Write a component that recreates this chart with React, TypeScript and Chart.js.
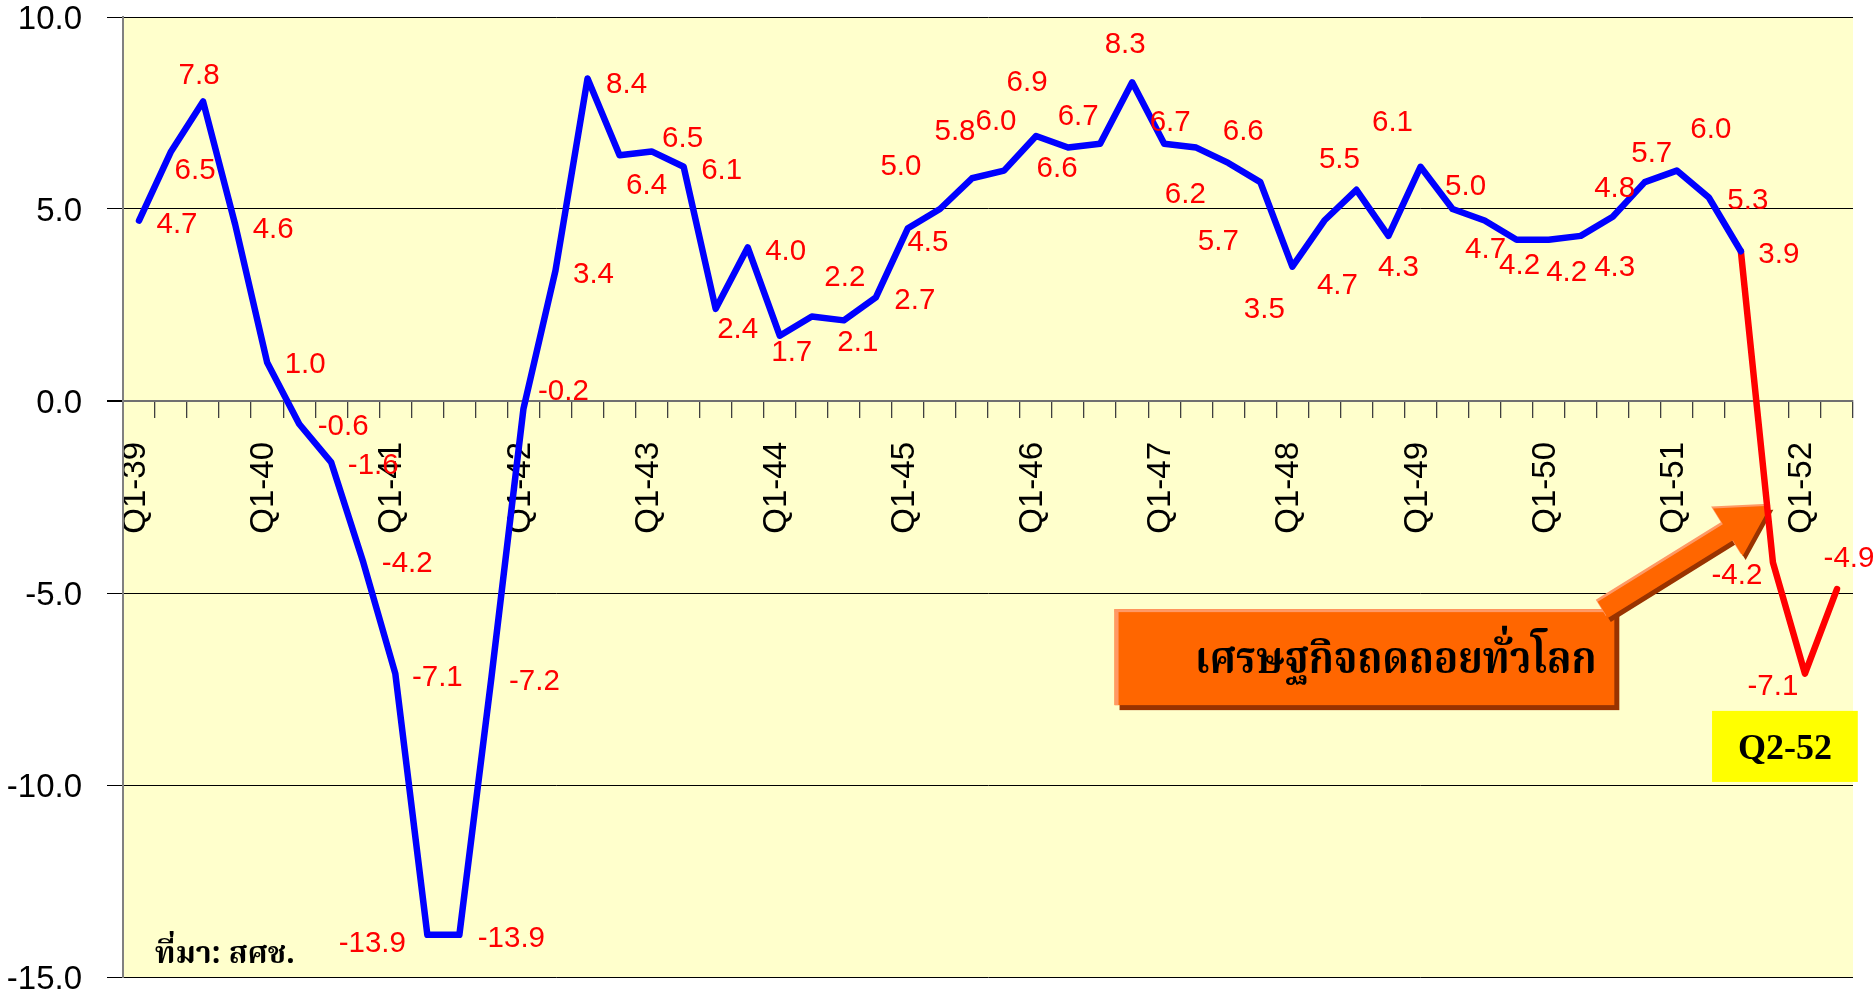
import { useEffect, useRef } from 'react';
import { Chart, registerables } from 'chart.js';

Chart.register(...registerables);

// ---------- data ----------
const YEARS = ['39', '40', '41', '42', '43', '44', '45', '46', '47', '48', '49', '50', '51', '52'];
const QUARTERS = ['Q1', 'Q2', 'Q3', 'Q4'];
const CATEGORIES: string[] = YEARS.flatMap((y) => QUARTERS.map((q) => `${q}-${y}`)).slice(0, 54);

// GDP growth (%), Q1-39 .. Q2-52
const GROWTH: number[] = [
  4.7, 6.5, 7.8, 4.6,
  1.0, -0.6, -1.6, -4.2,
  -7.1, -13.9, -13.9, -7.2,
  -0.2, 3.4, 8.4, 6.4,
  6.5, 6.1, 2.4, 4.0,
  1.7, 2.2, 2.1, 2.7,
  4.5, 5.0, 5.8, 6.0,
  6.9, 6.6, 6.7, 8.3,
  6.7, 6.6, 6.2, 5.7,
  3.5, 4.7, 5.5, 4.3,
  6.1, 5.0, 4.7, 4.2,
  4.2, 4.3, 4.8, 5.7,
  6.0, 5.3, 3.9, -4.2,
  -7.1, -4.9,
];
const CRISIS_START = 50; // index where the red (crisis) segment begins

const Y_TICKS = { min: -15, max: 10, step: 5 };

const SOURCE_TEXT = 'ที่มา: สศช.';
const CALLOUT_TEXT = 'เศรษฐกิจถดถอยทั่วโลก';
const MARKER_TEXT = 'Q2-52';

// ---------- styling (label offsets in px, relative to each point) ----------
const LABEL_OFFSETS: [number, number][] = [
  [38, 4], [24, 19], [-4, -26], [38, 5],
  [38, 2], [44, 3], [42, 3], [44, 2],
  [42, 4], [-55, 9], [52, 4], [43, 4],
  [40, -17], [38, 4], [39, 6], [27, 31],
  [31, -13], [38, 4], [22, 21], [38, 4],
  [12, 17], [33, -39], [14, 22], [39, 4],
  [20, 15], [-39, -42], [-17, -46], [-8, -49],
  [-9, -53], [-11, 21], [-22, -27], [-7, -37],
  [6, -21], [47, -16], [-43, 32], [-42, 60],
  [-28, 43], [13, 65], [-17, -30], [10, 32],
  [-28, -44], [13, -22], [1, 29], [3, 26],
  [18, 33], [34, 32], [2, -28], [7, -28],
  [34, -41], [39, 3], [38, 4], [-36, 14],
  [-32, 13], [12, -30],
];

// annotation anchors in data units (category index, value)
const CALLOUT_BOX = { x0: 30.45, x1: 46.05, y0: -5.42, y1: -7.92 };
const CALLOUT_TEXT_POS = { x0: 32.96, x1: 45.5, y: -7.08, xHeight: 25.5 };
const ARROW = { fromX: 45.69, fromY: -5.44, toX: 50.92, toY: -2.73 };
const MARKER_BOX = { x0: 49.1, x1: 53.65, y0: -8.07, y1: -9.92 };
const SOURCE_POS = { x0: 0.5, x1: 4.87, y: -14.64 };

const SANS = '"Liberation Sans", Arial, sans-serif';
const THAI = '"Noto Serif Thai", "Noto Sans Thai", "Norasi", "Kinnari", "Garuda", "Loma", "Tlwg Typo", serif';

// text sized by x-height, then squeezed horizontally to the given width
function drawFittedText(
  ctx: CanvasRenderingContext2D,
  text: string,
  left: number,
  right: number,
  baseline: number,
  xHeight: number,
  family: string,
) {
  ctx.font = `bold 100px ${family}`;
  const ref = ctx.measureText('า');
  const asc = ref.actualBoundingBoxAscent > 5 ? ref.actualBoundingBoxAscent : 50;
  const size = (100 * xHeight) / asc;
  ctx.font = `bold ${size}px ${family}`;
  const w = ctx.measureText(text).width || 1;
  const sx = Math.min(1.2, (right - left) / w);
  ctx.save();
  ctx.translate(left, baseline);
  ctx.scale(sx, 1);
  ctx.textAlign = 'left';
  ctx.textBaseline = 'alphabetic';
  ctx.fillText(text, 0, 0);
  ctx.restore();
}

// text uniformly sized to fit a width
function fitFont(ctx: CanvasRenderingContext2D, text: string, weight: string, family: string, width: number, maxSize: number) {
  ctx.font = `${weight} 100px ${family}`;
  const w = ctx.measureText(text).width || 1;
  const size = Math.min(maxSize, (100 * width) / w);
  return `${weight} ${size}px ${family}`;
}

const backgroundPlugin = {
  id: 'plotBackground',
  beforeDraw(chart: any) {
    const { ctx, chartArea: a } = chart;
    ctx.save();
    ctx.fillStyle = '#FFFFFF';
    ctx.fillRect(0, 0, chart.width, chart.height);
    ctx.fillStyle = '#FFFFCC';
    ctx.fillRect(a.left, a.top, a.right - a.left, a.bottom - a.top);
    ctx.restore();
  },
};

const annotationPlugin = {
  id: 'annotations',
  beforeDatasetsDraw(chart: any) {
    const { ctx } = chart;
    const xs = chart.scales.x;
    const ys = chart.scales.y;
    const px = (v: number) => xs.getPixelForValue(v);
    const py = (v: number) => ys.getPixelForValue(v);
    ctx.save();

    // callout box
    const bx = px(CALLOUT_BOX.x0);
    const by = py(CALLOUT_BOX.y0);
    const bw = px(CALLOUT_BOX.x1) - bx;
    const bh = py(CALLOUT_BOX.y1) - by;
    ctx.fillStyle = '#993300';
    ctx.fillRect(bx + 5, by + 5, bw, bh);
    ctx.fillStyle = '#FF6600';
    ctx.fillRect(bx, by, bw, bh);
    ctx.fillStyle = '#FF9966';
    ctx.fillRect(bx, by, bw, 3);
    ctx.fillRect(bx, by, 4, bh);

    ctx.fillStyle = '#000000';
    drawFittedText(
      ctx,
      CALLOUT_TEXT,
      px(CALLOUT_TEXT_POS.x0),
      px(CALLOUT_TEXT_POS.x1),
      py(CALLOUT_TEXT_POS.y),
      CALLOUT_TEXT_POS.xHeight,
      THAI,
    );

    // arrow
    const T = { x: px(ARROW.fromX), y: py(ARROW.fromY) };
    const P = { x: px(ARROW.toX), y: py(ARROW.toY) };
    const len = Math.hypot(P.x - T.x, P.y - T.y);
    const u = { x: (P.x - T.x) / len, y: (P.y - T.y) / len };
    const n = { x: -u.y, y: u.x };
    const shaftHalf = 9.5;
    const headHalf = 28;
    const headLen = 50;
    const B = { x: P.x - u.x * headLen, y: P.y - u.y * headLen };
    const pts = [
      [T.x + n.x * shaftHalf, T.y + n.y * shaftHalf],
      [B.x + n.x * shaftHalf, B.y + n.y * shaftHalf],
      [B.x + n.x * headHalf, B.y + n.y * headHalf],
      [P.x, P.y],
      [B.x - n.x * headHalf, B.y - n.y * headHalf],
      [B.x - n.x * shaftHalf, B.y - n.y * shaftHalf],
      [T.x - n.x * shaftHalf, T.y - n.y * shaftHalf],
    ];
    const poly = (dx: number, dy: number, color: string) => {
      ctx.beginPath();
      pts.forEach(([x, y], i) => (i === 0 ? ctx.moveTo(x + dx, y + dy) : ctx.lineTo(x + dx, y + dy)));
      ctx.closePath();
      ctx.fillStyle = color;
      ctx.fill();
    };
    poly(3, 4, '#993300');
    poly(-2, -2, '#FF9966');
    poly(0, 0, '#FF6600');

    // marker box
    const mx = px(MARKER_BOX.x0);
    const my = py(MARKER_BOX.y0);
    const mw = px(MARKER_BOX.x1) - mx;
    const mh = py(MARKER_BOX.y1) - my;
    ctx.fillStyle = '#FFFF00';
    ctx.fillRect(mx, my, mw, mh);
    ctx.fillStyle = '#000000';
    ctx.font = 'bold 36px "Liberation Serif", "Times New Roman", serif';
    ctx.textAlign = 'center';
    ctx.textBaseline = 'middle';
    ctx.fillText(MARKER_TEXT, mx + mw / 2, my + mh / 2 + 3);

    // source
    const sx0 = px(SOURCE_POS.x0);
    const sx1 = px(SOURCE_POS.x1);
    ctx.font = fitFont(ctx, SOURCE_TEXT, 'bold', THAI, sx1 - sx0, 40);
    ctx.fillStyle = '#000000';
    ctx.textAlign = 'left';
    ctx.textBaseline = 'alphabetic';
    ctx.fillText(SOURCE_TEXT, sx0, py(SOURCE_POS.y));

    ctx.restore();
  },
};

const dataLabelPlugin = {
  id: 'valueLabels',
  afterDatasetsDraw(chart: any) {
    const { ctx } = chart;
    const xs = chart.scales.x;
    const ys = chart.scales.y;
    ctx.save();
    ctx.font = `29.5px ${SANS}`;
    ctx.fillStyle = '#FF0000';
    ctx.textAlign = 'center';
    ctx.textBaseline = 'middle';
    GROWTH.forEach((v, i) => {
      const [dx, dy] = LABEL_OFFSETS[i] || [0, -20];
      ctx.fillText(v.toFixed(1), xs.getPixelForValue(i) + dx, ys.getPixelForValue(v) + dy);
    });
    ctx.restore();
  },
};

export default function App() {
  const ref = useRef<HTMLCanvasElement | null>(null);

  useEffect(() => {
    document.body.style.margin = '0';
    const canvas = ref.current;
    if (!canvas) return;

    const normal = GROWTH.map((v, i) => (i <= CRISIS_START ? v : null));
    const crisis = GROWTH.map((v, i) => (i >= CRISIS_START ? v : null));

    const chart = new Chart(canvas, {
      type: 'line',
      data: {
        labels: CATEGORIES,
        datasets: [
          {
            data: normal,
            borderColor: '#0000FF',
            borderWidth: 6.5,
            pointRadius: 0,
            tension: 0,
            borderJoinStyle: 'round',
            borderCapStyle: 'round',
            spanGaps: false,
          },
          {
            data: crisis,
            borderColor: '#FF0000',
            borderWidth: 6.5,
            pointRadius: 0,
            tension: 0,
            borderJoinStyle: 'round',
            borderCapStyle: 'round',
            spanGaps: false,
          },
        ],
      },
      options: {
        responsive: false,
        animation: false,
        devicePixelRatio: 1,
        layout: { padding: { top: 17, right: 23, bottom: 17, left: 0 } },
        plugins: {
          legend: { display: false },
          tooltip: { enabled: false },
          title: { display: false },
        },
        scales: {
          x: {
            type: 'category',
            position: { y: 0 },
            offset: true,
            grid: {
              offset: true,
              drawOnChartArea: false,
              drawTicks: true,
              tickLength: 16,
              color: '#404040',
              lineWidth: 1.3,
            },
            border: { display: true, color: '#707070', width: 2 },
            ticks: {
              autoSkip: false,
              maxRotation: 90,
              minRotation: 90,
              padding: 25,
              labelOffset: -3,
              color: '#000000',
              font: { family: SANS, size: 33, lineHeight: 1 },
              callback: (_v: any, i: number) => (CATEGORIES[i].startsWith('Q1') ? CATEGORIES[i] : ''),
            },
            afterFit: (s: any) => {
              s.height = 0;
              s.paddingLeft = 0;
              s.paddingRight = 0;
            },
          },
          y: {
            type: 'linear',
            position: 'left',
            min: Y_TICKS.min,
            max: Y_TICKS.max,
            grid: {
              color: (c: any) => (c.tick && c.tick.value === 0 ? '#707070' : '#000000'),
              lineWidth: (c: any) => (c.tick && c.tick.value === 0 ? 2 : 1),
              tickColor: '#000000',
              tickLength: 16,
              drawTicks: true,
            },
            border: { display: true, color: '#808080', width: 2 },
            ticks: {
              stepSize: Y_TICKS.step,
              padding: 25,
              labelOffset: 3,
              color: '#000000',
              font: { family: SANS, size: 33, lineHeight: 1 },
              callback: (v: any) => Number(v).toFixed(1),
            },
            afterFit: (s: any) => {
              s.width = 123;
              s.paddingTop = 0;
              s.paddingBottom = 0;
            },
          },
        },
      },
      plugins: [backgroundPlugin, annotationPlugin, dataLabelPlugin],
    } as any);

    return () => chart.destroy();
  }, []);

  return (
    <div style={{ position: 'fixed', left: 0, top: 0, width: 1876, height: 994, background: '#FFFFFF' }}>
      <canvas ref={ref} width={1876} height={994} style={{ display: 'block', width: 1876, height: 994 }} />
    </div>
  );
}
